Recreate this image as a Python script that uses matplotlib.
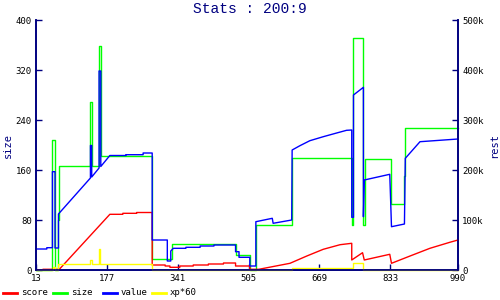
import matplotlib
matplotlib.use('Agg')
import matplotlib.pyplot as plt
from matplotlib.lines import Line2D

NAVY = '#000080'
FONT = 'DejaVu Sans Mono'

TITLE = 'Stats : 200:9'
X_TICKS = [13, 177, 341, 505, 669, 833, 990]
SIZE_TICKS = [0, 80, 160, 240, 320, 400]
REST_TICKS = [0, 100, 200, 300, 400, 500]

# size (left axis), step changes
size_x = [13, 51, 58, 65, 67, 138, 142, 159, 163, 282, 327, 475, 508, 522, 606,
          744, 748, 771, 775, 834, 866, 868, 990]
size_y = [0, 208, 0, 80, 167, 269, 167, 359, 183, 17, 41, 24, 0, 72, 180,
          72, 372, 72, 177, 106, 150, 228, 228]

# value (right axis, thousands)
value_x = [13, 38, 38, 51, 51, 57, 57, 65, 65, 139, 139, 142, 142, 159, 159, 163, 163,
           184, 221, 221, 261, 261, 282, 282, 317, 317, 325, 325, 331, 360, 360, 393,
           393, 425, 425, 475, 475, 483, 483, 508, 508, 522, 522, 560, 562, 605, 606,
           624, 647, 678, 709, 732, 744, 744, 748, 748, 771, 771, 773, 832, 834, 836,
           866, 868, 902, 990]
value_y = [42, 42, 44.6, 44.6, 196.6, 196.6, 44, 44, 112, 184, 249, 249, 186, 204, 398,
           398, 207, 229, 229, 230.6, 230.6, 234, 234, 60, 60, 18, 18, 38, 43.4, 43.4,
           45.4, 45.4, 48, 48, 50, 50, 36.6, 36.6, 25.4, 25.4, 8, 8, 96.6, 103.4, 93.4,
           100, 240, 248.6, 258.6, 266.6, 274, 279.4, 280, 105.4, 105.4, 350, 365.4,
           106.6, 180, 191.4, 140, 86.6, 92, 223.4, 256.6, 262]

# score (right axis, thousands)
score_x = [13, 29, 29, 67, 184, 214, 214, 246, 246, 282, 282, 312, 312, 323, 323, 346,
           346, 377, 377, 412, 412, 447, 447, 475, 475, 508, 508, 529, 560, 601, 640,
           678, 717, 744, 744, 769, 773, 832, 836, 879, 925, 971, 990]
score_y = [0, 0, 1.4, 1.4, 111.4, 111.4, 113.4, 113.4, 115, 115, 10, 10, 8, 8, 5.4, 5.4,
           8, 8, 10, 10, 12, 12, 14, 14, 8, 8, 1.4, 1.4, 6.6, 13.4, 28, 41.4, 50.6, 53.4,
           20, 34.6, 20, 31.4, 13.4, 28, 43.4, 55.4, 60]

# xp*60 (right axis, thousands), step changes
xp_x = [13, 52, 58, 65, 139, 142, 160, 162, 282, 606, 748, 771, 990]
xp_y = [0, 6.6, 0, 11.4, 20, 11.4, 41.4, 11.4, 0, 3.4, 13.4, 0, 0]

plt.rcParams['font.family'] = FONT
fig = plt.figure(figsize=(5, 3), dpi=100)
ax = fig.add_axes([0.072, 0.1, 0.844, 0.8333])
ax2 = ax.twinx()

ax.plot(size_x, size_y, color='#00ff00', lw=1.0, drawstyle='steps-post', clip_on=False)
ax2.plot(score_x, score_y, color='#ff0000', lw=1.0, clip_on=False)
ax2.plot(value_x, value_y, color='#0000ff', lw=1.0, clip_on=False)
ax2.plot(xp_x, xp_y, color='#ffff00', lw=1.0, drawstyle='steps-post', clip_on=False)

ax.set_xlim(13, 990)
ax.set_ylim(0, 400)
ax2.set_ylim(0, 500)
ax.set_xticks(X_TICKS)
ax.set_yticks(SIZE_TICKS)
ax2.set_yticks(REST_TICKS)
ax2.set_yticklabels(['0'] + ['%dk' % v for v in REST_TICKS[1:]])

for a in (ax, ax2):
    for s in a.spines.values():
        s.set_color(NAVY)
        s.set_linewidth(1.2)
    a.spines['top'].set_visible(False)
    a.tick_params(direction='in', length=4, width=1, color=NAVY, labelsize=6.5,
                  labelcolor='black', pad=3)

ax.set_ylabel('size', color=NAVY, fontsize=7.5, labelpad=2)
ax2.set_ylabel('rest', color=NAVY, fontsize=7.5, labelpad=4)
fig.text(0.5, 0.97, TITLE, ha='center', va='center', color=NAVY, fontsize=10.5,
         family='Liberation Mono')

# legend along the bottom
legend = [('score', '#ff0000', 3), ('size', '#00ff00', 53),
          ('value', '#0000ff', 103), ('xp*60', '#ffff00', 152)]
for label, color, x0 in legend:
    fig.add_artist(Line2D([x0 / 500, (x0 + 14) / 500], [7.5 / 300, 7.5 / 300],
                          color=color, lw=2, transform=fig.transFigure))
    fig.text((x0 + 18) / 500, 7.5 / 300, label, ha='left', va='center',
             fontsize=6.5, color='black')

fig.savefig('out.png', dpi=100)
